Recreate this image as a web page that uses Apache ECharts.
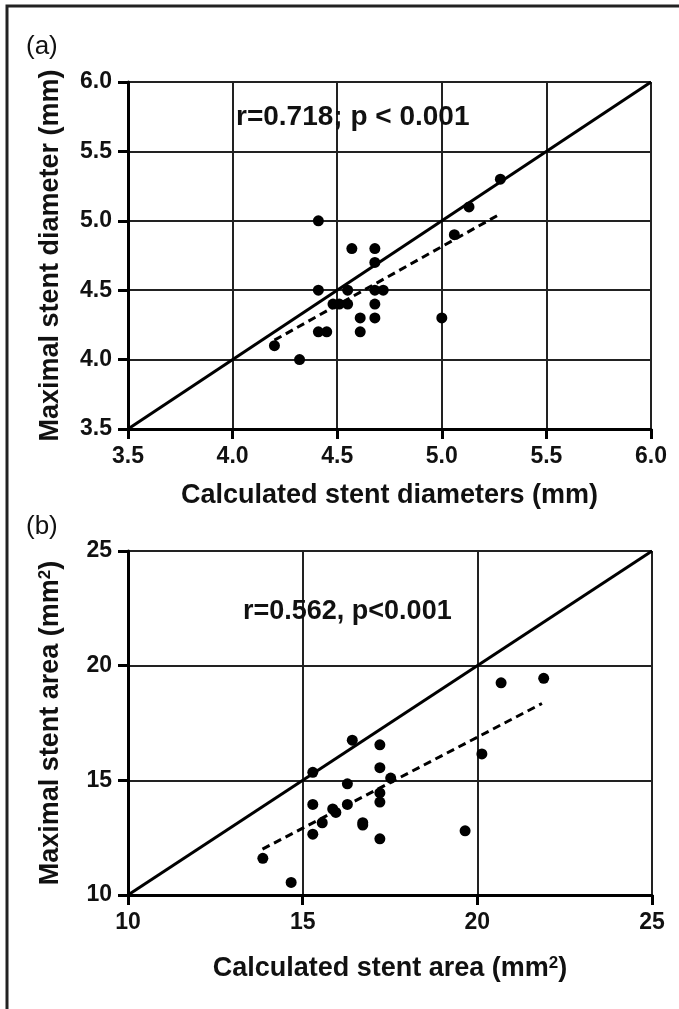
<!DOCTYPE html>
<html>
<head>
<meta charset="utf-8">
<script src="https://cdn.jsdelivr.net/npm/echarts@6/dist/echarts.min.js"></script>
<style>
html, body { margin: 0; padding: 0; background: #fff; }
#chart { width: 679px; height: 1009px; }
</style>
</head>
<body>
<div id="chart"></div>
<script>
// (a) stent diameters, mm
const diamTicks = [3.5, 4.0, 4.5, 5.0, 5.5, 6.0];
const diamCalc = [4.41, 4.57, 4.68, 4.68, 4.41, 4.55, 4.68, 4.72, 4.48, 4.51, 4.55, 4.68,
                  4.61, 4.68, 5.00, 4.41, 4.45, 4.61, 4.20, 4.32, 5.06, 5.13, 5.28];
const diamMax  = [5.0, 4.8, 4.8, 4.7, 4.5, 4.5, 4.5, 4.5, 4.4, 4.4, 4.4, 4.4,
                  4.3, 4.3, 4.3, 4.2, 4.2, 4.2, 4.1, 4.0, 4.9, 5.1, 5.3];
const diamFitX = [4.20, 5.28];
const diamFitY = [4.14, 5.05];

// (b) stent areas, mm2
const areaTicks = [10, 15, 20, 25];
const areaCalc = [13.86, 14.67, 15.29, 15.29, 15.29, 15.56, 15.86, 15.95, 16.28, 16.28, 16.42, 16.72,
                  16.72, 17.21, 17.21, 17.21, 17.21, 17.21, 17.52, 19.65, 20.13, 20.68, 21.90];
const areaMax  = [11.6, 10.55, 15.35, 13.95, 12.65, 13.15, 13.75, 13.6, 14.85, 13.95, 16.75, 13.15,
                  13.05, 16.55, 15.55, 14.45, 14.05, 12.45, 15.1, 12.8, 16.15, 19.25, 19.45];
const areaFitX = [13.85, 21.85];
const areaFitY = [12.0, 18.35];

const FONT = '"Liberation Sans", Arial, Helvetica, sans-serif';

function zip(xs, ys) {
    return xs.map((x, i) => [x, ys[i]]);
}

function valueAxis(ticks, idx, name, gap, digits) {
    return {
        type: 'value',
        gridIndex: idx,
        min: ticks[0],
        max: ticks[ticks.length - 1],
        interval: ticks[1] - ticks[0],
        name: name,
        nameLocation: 'middle',
        nameGap: gap,
        nameTextStyle: {
            color: '#111', fontSize: 27, fontWeight: 'bold', fontFamily: FONT,
            rich: {
                sup: { color: '#111', fontSize: 17, fontWeight: 'bold', fontFamily: FONT, verticalAlign: 'top' }
            }
        },
        axisLine: { show: true, onZero: false, lineStyle: { color: '#000', width: 3 } },
        axisTick: { show: true, length: 10, lineStyle: { color: '#000', width: 3 } },
        splitLine: { show: true, lineStyle: { color: '#222', width: 2 } },
        axisLabel: {
            color: '#111', fontSize: 23, fontWeight: 'bold', fontFamily: FONT, margin: 16,
            formatter: v => v.toFixed(digits)
        }
    };
}

function panelSeries(idx, xs, ys, fitX, fitY, ticks) {
    const lo = ticks[0], hi = ticks[ticks.length - 1];
    return [{
        type: 'line',
        xAxisIndex: idx, yAxisIndex: idx,
        data: [[lo, lo], [hi, hi]],
        showSymbol: false,
        lineStyle: { color: '#000', width: 3 },
        z: 3
    }, {
        type: 'line',
        xAxisIndex: idx, yAxisIndex: idx,
        data: zip(fitX, fitY),
        showSymbol: false,
        lineStyle: { color: '#000', width: 3, type: [8, 5] },
        z: 3
    }, {
        type: 'scatter',
        xAxisIndex: idx, yAxisIndex: idx,
        data: zip(xs, ys),
        symbolSize: 11,
        itemStyle: { color: '#000', opacity: 1 },
        z: 4
    }];
}

const chart = echarts.init(document.getElementById('chart'));

chart.setOption({
    animation: false,
    backgroundColor: '#fff',
    grid: [
        { left: 128, top: 82, width: 523, height: 347 },
        { left: 128, top: 551, width: 524, height: 344 }
    ],
    xAxis: [
        valueAxis(diamTicks, 0, 'Calculated stent diameters (mm)', 53, 1),
        valueAxis(areaTicks, 1, 'Calculated stent area (mm{sup|2})', 60, 0)
    ],
    yAxis: [
        valueAxis(diamTicks, 0, 'Maximal stent diameter (mm)', 64, 1),
        valueAxis(areaTicks, 1, 'Maximal stent area (mm{sup|2})', 64, 0)
    ],
    series: [].concat(
        panelSeries(0, diamCalc, diamMax, diamFitX, diamFitY, diamTicks),
        panelSeries(1, areaCalc, areaMax, areaFitX, areaFitY, areaTicks)
    ),
    graphic: [{
        type: 'polyline',
        shape: { points: [[7, 1009], [7, 6], [679, 6]] },
        style: { stroke: '#222', lineWidth: 3, fill: null }
    }, {
        type: 'text', x: 26, y: 47,
        style: { text: '(a)', font: '26px ' + FONT, fill: '#111', textVerticalAlign: 'middle' }
    }, {
        type: 'text', x: 26, y: 527,
        style: { text: '(b)', font: '26px ' + FONT, fill: '#111', textVerticalAlign: 'middle' }
    }, {
        type: 'text', x: 236, y: 117,
        style: { text: 'r=0.718; p < 0.001', font: 'bold 28px ' + FONT, fill: '#111', textVerticalAlign: 'middle' },
        z: 10
    }, {
        type: 'text', x: 243, y: 612,
        style: { text: 'r=0.562, p<0.001', font: 'bold 27px ' + FONT, fill: '#111', textVerticalAlign: 'middle' },
        z: 10
    }]
});
</script>
</body>
</html>
